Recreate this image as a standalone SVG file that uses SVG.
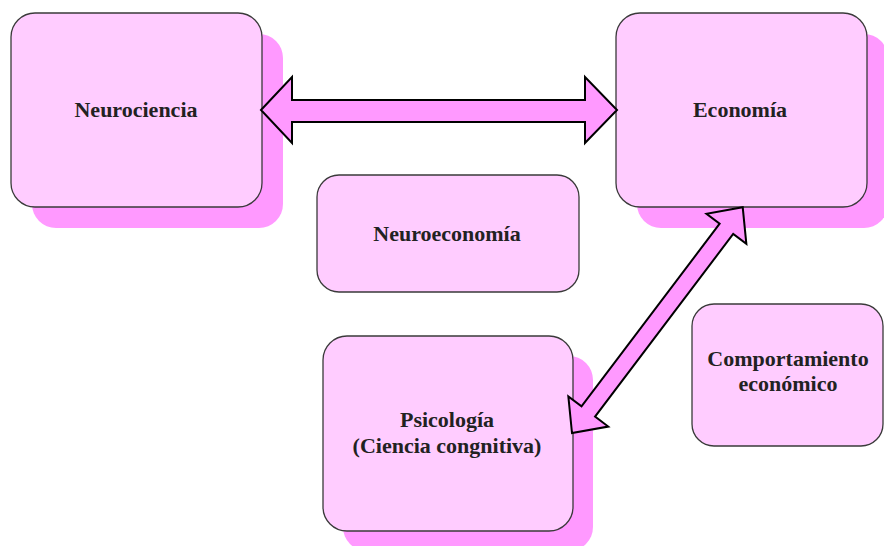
<svg xmlns="http://www.w3.org/2000/svg" width="884" height="546" viewBox="0 0 884 546">
<style>
.shadow{fill:#FF99FF;}
.box{fill:#FFCCFF;stroke:#3a3a3a;stroke-width:1.3;}
.arrow{fill:#FF99FF;stroke:#000;stroke-width:2;stroke-linejoin:miter;}
.lbl{font-family:"Liberation Serif","Times New Roman",serif;font-size:22px;font-weight:bold;fill:#222;text-anchor:middle;}
</style>
<rect width="884" height="546" fill="#fff"/>
<g id="neurociencia">
<rect class="shadow" x="32" y="34" width="251" height="194" rx="24"/>
<rect class="box" x="11" y="13" width="251" height="194" rx="24"/>
<text class="lbl" x="136" y="117">Neurociencia</text>
</g>
<g id="economia">
<rect class="shadow" x="637" y="34" width="251" height="194" rx="24"/>
<rect class="box" x="616" y="13" width="251" height="194" rx="24"/>
<text class="lbl" x="740" y="117">Economía</text>
</g>
<g id="neuroeconomia">
<rect class="box" x="317" y="175" width="262" height="117" rx="22"/>
<text class="lbl" x="447" y="241">Neuroeconomía</text>
</g>
<g id="psicologia">
<rect class="shadow" x="343" y="356" width="250" height="195" rx="24"/>
<rect class="box" x="323" y="336" width="250" height="195" rx="24"/>
<text class="lbl" x="447" y="427">Psicología</text>
<text class="lbl" x="447" y="453">(Ciencia congnitiva)</text>
</g>
<g id="comportamiento">
<rect class="box" x="692" y="304" width="191" height="142" rx="22"/>
<text class="lbl" x="788" y="366">Comportamiento</text>
<text class="lbl" x="788" y="391">económico</text>
</g>
<g id="connectors">
<polygon class="arrow" points="261,110 292,77 292,100 585,100 585,77 617,110 585,143 585,122 292,122 292,143"/>
<polygon class="arrow" transform="translate(572,433) rotate(-52.9)" points="0,0 27,-25 27,-8.5 256,-8.5 256,-25 283,0 256,25 256,8.5 27,8.5 27,25"/>
</g>
</svg>
